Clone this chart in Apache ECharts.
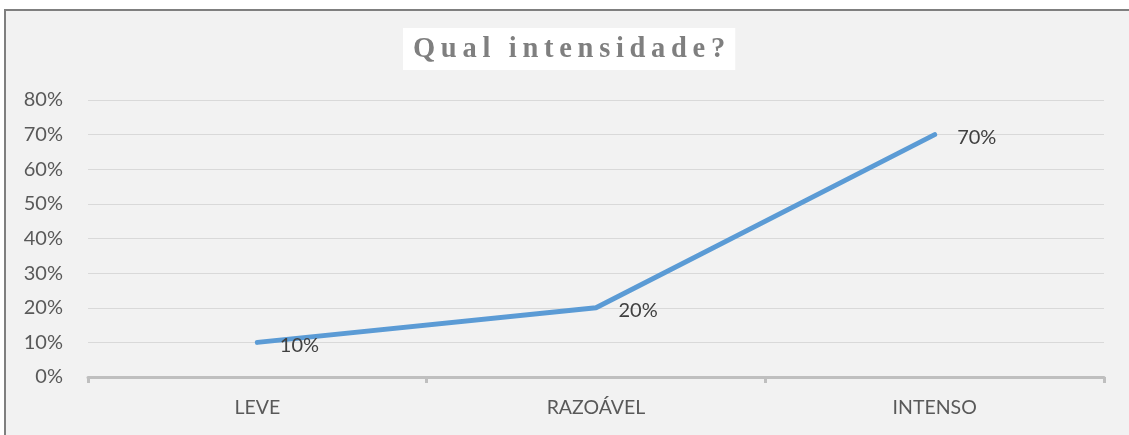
<!DOCTYPE html>
<html lang="pt">
<head>
    <meta charset="utf-8" />
    <title>Qual intensidade?</title>
    <script src="https://cdn.jsdelivr.net/npm/echarts@6/dist/echarts.min.js"></script>
    <style>
        html, body { margin: 0; padding: 0; background: #fff; }
        #chart { width: 1129px; height: 435px; }
    </style>
</head>
<body>
<div id="chart"></div>
<script type="text/javascript">
    // dados
    var categorias = ['LEVE', 'RAZOÁVEL', 'INTENSO'];
    var valores = [0.10, 0.20, 0.70];
    var titulo = 'Qual intensidade?';

    // espaçamento entre letras do título (thin space)
    var tituloEspacado = titulo.split('').join('\u2009');

    function pct(v) {
        return Math.round(v * 100) + '%';
    }

    var chart = echarts.init(document.getElementById('chart'));
    chart.setOption({
        backgroundColor: '#ffffff',
        animation: false,
        graphic: [{
            type: 'rect',
            z: -10,
            shape: { x: 5, y: 10, width: 1140, height: 440 },
            style: { fill: '#f2f2f2', stroke: '#7f7f7f', lineWidth: 2 }
        }],
        title: {
            text: tituloEspacado,
            left: 403,
            top: 28,
            backgroundColor: '#ffffff',
            padding: [7, 10, 6, 10],
            textStyle: {
                fontFamily: 'Liberation Serif',
                fontWeight: 'bold',
                fontSize: 28.5,
                color: '#7f7f7f'
            }
        },
        grid: { left: 88, right: 25, top: 100, bottom: 58 },
        xAxis: {
            type: 'category',
            data: categorias,
            boundaryGap: true,
            axisLine: { lineStyle: { color: '#bfbfbf', width: 3 } },
            axisTick: { show: true, length: 6, lineStyle: { color: '#bfbfbf', width: 3 } },
            axisLabel: {
                margin: 21,
                fontFamily: 'Lato',
                fontSize: 19.5,
                color: '#595959'
            }
        },
        yAxis: {
            type: 'value',
            min: 0,
            max: 0.8,
            interval: 0.1,
            axisLine: { show: false },
            axisTick: { show: false },
            splitLine: { lineStyle: { color: '#d9d9d9', width: 1 } },
            axisLabel: {
                margin: 25,
                fontFamily: 'Lato',
                fontSize: 20,
                color: '#595959',
                formatter: pct
            }
        },
        series: [{
            type: 'line',
            data: valores,
            symbol: 'circle',
            symbolSize: 1,
            itemStyle: { color: '#5b9bd5' },
            lineStyle: { color: '#5b9bd5', width: 5, cap: 'round' },
            label: {
                show: true,
                position: 'right',
                distance: 22,
                offset: [0, 3],
                fontFamily: 'Lato',
                fontSize: 20,
                color: '#404040',
                formatter: function (p) { return pct(p.value); }
            }
        }]
    });
</script>
</body>
</html>
